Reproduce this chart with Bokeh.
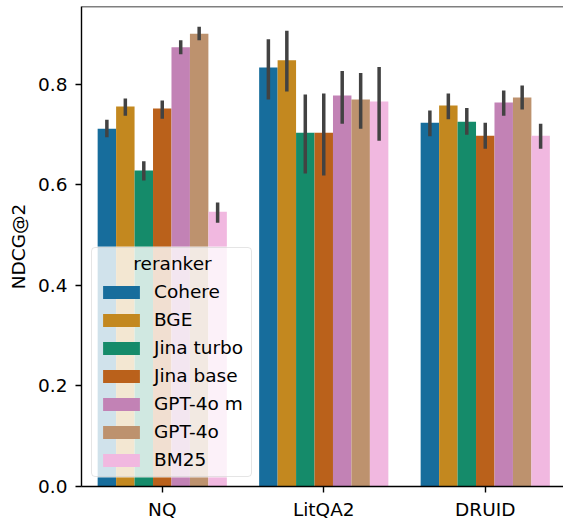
from bokeh.plotting import figure
from bokeh.models import (ColumnDataSource, Range1d, FixedTicker, Legend, LegendItem,
                          Span, PrintfTickFormatter, Label, BoxAnnotation)
from bokeh.embed import file_html
from bokeh.resources import INLINE

datasets = ["NQ", "LitQA2", "DRUID"]
rerankers = ["Cohere", "BGE", "Jina turbo", "Jina base", "GPT-4o m", "GPT-4o", "BM25"]
colors = ["#176d9c", "#c3881f", "#158b6a", "#ba611b", "#c282b5", "#bd926e", "#f1b8e0"]

# mean NDCG@2 per reranker, in datasets order (NQ, LitQA2, DRUID)
mean_cohere = [0.712, 0.834, 0.724]
mean_bge = [0.756, 0.848, 0.758]
mean_jina_turbo = [0.629, 0.704, 0.726]
mean_jina_base = [0.752, 0.704, 0.698]
mean_gpt4o_mini = [0.874, 0.778, 0.764]
mean_gpt4o = [0.901, 0.770, 0.774]
mean_bm25 = [0.547, 0.766, 0.698]

# lower / upper ends of the confidence intervals
lo_cohere = [0.695, 0.770, 0.697]
lo_bge = [0.738, 0.786, 0.731]
lo_jina_turbo = [0.609, 0.623, 0.700]
lo_jina_base = [0.732, 0.619, 0.672]
lo_gpt4o_mini = [0.860, 0.722, 0.738]
lo_gpt4o = [0.888, 0.712, 0.750]
lo_bm25 = [0.525, 0.688, 0.672]

hi_cohere = [0.730, 0.890, 0.748]
hi_bge = [0.772, 0.907, 0.782]
hi_jina_turbo = [0.647, 0.780, 0.753]
hi_jina_base = [0.768, 0.782, 0.724]
hi_gpt4o_mini = [0.888, 0.827, 0.788]
hi_gpt4o = [0.915, 0.823, 0.798]
hi_bm25 = [0.565, 0.835, 0.722]

y_ticks = [0.0, 0.2, 0.4, 0.6, 0.8]

means = [mean_cohere, mean_bge, mean_jina_turbo, mean_jina_base, mean_gpt4o_mini, mean_gpt4o, mean_bm25]
los = [lo_cohere, lo_bge, lo_jina_turbo, lo_jina_base, lo_gpt4o_mini, lo_gpt4o, lo_bm25]
his = [hi_cohere, hi_bge, hi_jina_turbo, hi_jina_base, hi_gpt4o_mini, hi_gpt4o, hi_bm25]

FONT = "DejaVu Sans"
FS = "18.5px"
Y_END = 0.9552

p = figure(width=563, height=525, output_backend="svg", toolbar_location=None,
           x_range=Range1d(-0.5, 2.4845), y_range=Range1d(0, Y_END),
           min_border_left=81, min_border_right=0, min_border_top=6, min_border_bottom=39)
p.background_fill_color = "white"
p.border_fill_color = "white"
p.outline_line_color = None
p.xgrid.visible = False
p.ygrid.visible = False

n = len(rerankers)
bar_w = 0.8 / n
items = []
for j, name in enumerate(rerankers):
    off = (j - (n - 1) / 2) * bar_w
    xs = [i + off for i in range(len(datasets))]
    src = ColumnDataSource(dict(x=xs, top=means[j]))
    r = p.vbar(x="x", top="top", bottom=0, width=bar_w, source=src,
               fill_color=colors[j], line_color=None)
    items.append(LegendItem(label=name, renderers=[r]))

for j, name in enumerate(rerankers):
    off = (j - (n - 1) / 2) * bar_w
    xs = [i + off for i in range(len(datasets))]
    src = ColumnDataSource(dict(x=xs, lo=los[j], hi=his[j]))
    p.segment(x0="x", x1="x", y0="lo", y1="hi", source=src,
              line_color="#424242", line_width=3.5, line_cap="butt")

p.xaxis.ticker = FixedTicker(ticks=list(range(len(datasets))))
p.xaxis.major_label_overrides = {i: d for i, d in enumerate(datasets)}
p.yaxis.ticker = FixedTicker(ticks=y_ticks)
p.yaxis.formatter = PrintfTickFormatter(format="%.1f")
p.yaxis.axis_label = "NDCG@2"

for ax in (p.xaxis[0], p.yaxis[0]):
    ax.axis_line_color = "black"
    ax.axis_line_width = 1.4
    ax.major_tick_line_color = "black"
    ax.major_tick_line_width = 1.4
    ax.major_tick_out = 6
    ax.major_tick_in = 0
    ax.minor_tick_line_color = None
    ax.major_label_text_font = FONT
    ax.major_label_text_font_size = FS
    ax.major_label_text_color = "black"
    ax.axis_label_text_font = FONT
    ax.axis_label_text_font_size = FS
    ax.axis_label_text_color = "black"
    ax.axis_label_text_font_style = "normal"

p.xaxis.major_label_standoff = 6
p.yaxis.major_label_standoff = 8
p.yaxis.axis_label_standoff = 6

# top spine
p.add_layout(Span(location=Y_END, dimension="width", line_color="black", line_width=1.4))

# semi-transparent white fill of the legend, drawn under the legend and its title
LEG_X, LEG_Y, LEG_W, LEG_H = 10, 9, 162, 231
box = BoxAnnotation(left=LEG_X, right=LEG_X + LEG_W, bottom=LEG_Y, top=LEG_Y + LEG_H,
                    left_units="screen", right_units="screen",
                    bottom_units="screen", top_units="screen",
                    fill_color="white", fill_alpha=0.8, line_color=None)
if "border_radius" in BoxAnnotation.properties():
    box.border_radius = 4
p.add_layout(box)

# centred legend title, as matplotlib draws it
p.add_layout(Label(x=LEG_X + LEG_W / 2, y=223, x_units="screen", y_units="screen",
                   text="reranker", text_align="center", text_baseline="middle",
                   text_font=FONT, text_font_size=FS, text_color="black"))

legend = Legend(items=items, location=(LEG_X, LEG_Y), title="\u00a0",
                padding=6, spacing=7, margin=0,
                glyph_width=46, glyph_height=16, label_standoff=10, label_height=21,
                label_width=91, title_standoff=6,
                border_line_color="#cccccc", border_line_width=1.2,
                background_fill_color="white", background_fill_alpha=0.0)
legend.label_text_font = FONT
legend.label_text_font_size = FS
legend.label_text_color = "black"
legend.title_text_font = FONT
legend.title_text_font_size = FS
legend.title_text_font_style = "normal"
legend.title_text_color = "black"
if "border_radius" in Legend.properties():
    legend.border_radius = 4
p.add_layout(legend, "center")

open("out.html", "w").write(file_html(p, INLINE))
